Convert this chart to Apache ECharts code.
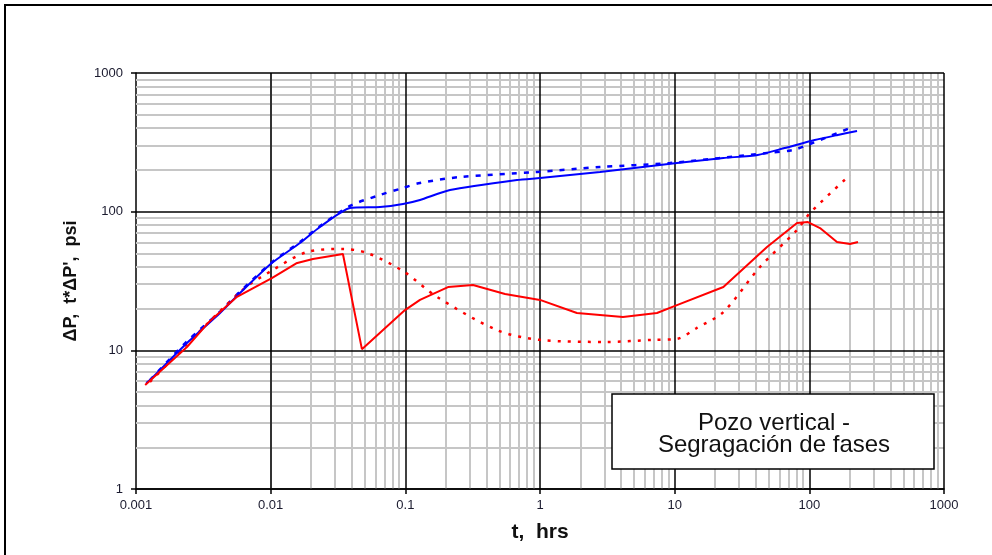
<!DOCTYPE html>
<html>
<head>
<meta charset="utf-8">
<script src="https://cdn.jsdelivr.net/npm/echarts@6/dist/echarts.min.js"></script>
<style>html,body{margin:0;padding:0;background:#fff;}#c{width:992px;height:555px;}</style>
</head>
<body>
<div id="c"></div>
<script>
// ---- data ----
const xTickLabels = ['0.001', '0.01', '0.1', '1', '10', '100', '1000'];
const yTickLabels = ['1', '10', '100', '1000'];

// Pressure change, measured (blue solid)
const dpTime  = [0.00119, 0.00127, 0.00239, 0.00421, 0.00592, 0.0102, 0.0165, 0.0232, 0.0388, 0.0649, 0.0961, 0.1285, 0.2147, 0.6745, 1.0, 2.79, 10.4, 23.0, 41.4, 65.6, 109.6, 162.4, 226];
const dpValue = [5.81, 6.11, 11.3, 18.6, 25.9, 42.6, 59.4, 77.5, 106.3, 108, 113.6, 121.4, 143.3, 169.2, 174.9, 193.2, 224.4, 243.8, 256.3, 287.8, 328.7, 357.2, 381.6];

// Pressure change, model (blue dotted)
const dpModelTime  = [0.00127, 0.00239, 0.00421, 0.00592, 0.0102, 0.0165, 0.0232, 0.0388, 0.0649, 0.0961, 0.1285, 0.2547, 0.95, 2.79, 9.23, 48.5, 75.6, 101.1, 200.4];
const dpModelValue = [6.1, 11.6, 19.0, 26.5, 43.0, 60.5, 78.5, 109.9, 131.9, 148.2, 160.9, 177.8, 193.2, 209.9, 224.4, 264.9, 278.4, 307.6, 401.2];

// Derivative, measured (red solid)
const derivTime  = [0.00117, 0.00239, 0.0035, 0.00562, 0.0102, 0.0155, 0.0206, 0.0344, 0.0476, 0.0994, 0.1285, 0.2074, 0.318, 0.55, 1.0, 1.88, 4.13, 7.39, 10.4, 23.0, 48.5, 81.0, 97.7, 120, 160.4, 200.4, 229.7];
const derivValue = [5.62, 10.57, 16.1, 24.3, 33.2, 42.4, 45.6, 49.5, 10.2, 19.5, 23.1, 28.6, 29.6, 25.5, 23.1, 18.6, 17.4, 18.6, 21.2, 28.6, 55.6, 82.9, 84.2, 76.2, 60.4, 58.5, 60.4];

// Derivative, model (red dotted)
const derivModelTime  = [0.00127, 0.00592, 0.0104, 0.0186, 0.0344, 0.0519, 0.0961, 0.1718, 0.4794, 1.0, 3.14, 6.90, 10.4, 14.6, 23.0, 43.0, 81.0, 101.1, 200.4];
const derivModelValue = [5.91, 26.3, 38.0, 51.2, 53.8, 50.4, 37.3, 24.3, 14.0, 11.9, 11.5, 11.9, 12.1, 14.5, 18.9, 39.9, 73.8, 97.8, 183.8];

const boxLines = ['Pozo vertical -', 'Segragación de fases'];

// ---- build ----
function pairs(xs, ys) { return xs.map((x, i) => [x, ys[i]]); }

const minorX = [], majorX = [];
for (let e = -3; e <= 3; e++) {
  majorX.push({ xAxis: Math.pow(10, e) });
  if (e < 3) for (let d = 2; d <= 9; d++) minorX.push({ xAxis: d * Math.pow(10, e) });
}
const minorY = [], majorY = [];
for (let e = 0; e <= 3; e++) {
  majorY.push({ yAxis: Math.pow(10, e) });
  if (e < 3) for (let d = 2; d <= 9; d++) minorY.push({ yAxis: d * Math.pow(10, e) });
}

const FONT = '"Liberation Sans", Arial, sans-serif';
const chart = echarts.init(document.getElementById('c'));
chart.setOption({
  animation: false,
  backgroundColor: '#fff',
  grid: { left: 136, right: 48, top: 73, bottom: 66, containLabel: false },
  xAxis: {
    type: 'log', logBase: 10, min: 0.001, max: 1000, interval: 1, splitNumber: 6,
    name: 't,  hrs', nameLocation: 'middle', nameGap: 33,
    nameTextStyle: { fontFamily: FONT, fontSize: 21, fontWeight: 'bold', color: '#111' },
    axisLine: { lineStyle: { color: '#000', width: 1.5 } },
    axisTick: { show: true, length: 5, lineStyle: { color: '#000', width: 1.5 } },
    axisLabel: {
      fontFamily: FONT, fontSize: 13, color: '#1a1a2e', margin: 10,
      formatter: v => xTickLabels[Math.round(Math.log10(v)) + 3]
    },
    splitLine: { show: false }, minorTick: { show: false }, minorSplitLine: { show: false }
  },
  yAxis: {
    type: 'log', logBase: 10, min: 1, max: 1000, interval: 1, splitNumber: 3,
    name: 'ΔP,  t*ΔP\',  psi', nameLocation: 'middle', nameGap: 56, nameRotate: 90,
    nameTextStyle: { fontFamily: FONT, fontSize: 18, fontWeight: 'bold', color: '#111' },
    axisLine: { lineStyle: { color: '#000', width: 1.5 } },
    axisTick: { show: true, length: 5, lineStyle: { color: '#000', width: 1.5 } },
    axisLabel: {
      fontFamily: FONT, fontSize: 13, color: '#1a1a2e', margin: 13,
      formatter: v => yTickLabels[Math.round(Math.log10(v))]
    },
    splitLine: { show: false }, minorTick: { show: false }, minorSplitLine: { show: false }
  },
  series: [
    {
      name: 'minor', type: 'line', data: [], z: 1, silent: true,
      markLine: { z: 1, silent: true, symbol: 'none', animation: false, label: { show: false },
        lineStyle: { color: '#c6c6c6', width: 2, type: 'solid' },
        emphasis: { disabled: true },
        data: minorX.concat(minorY) }
    },
    {
      name: 'major', type: 'line', data: [], z: 2, silent: true,
      markLine: { z: 2, silent: true, symbol: 'none', animation: false, label: { show: false },
        lineStyle: { color: '#000', width: 1.5, type: 'solid' },
        emphasis: { disabled: true },
        data: majorX.concat(majorY) }
    },
    {
      name: 'ΔP model', type: 'line', z: 3, showSymbol: false, smooth: 0.3,
      data: pairs(dpModelTime, dpModelValue),
      lineStyle: { color: '#0000ff', width: 2.5, type: [5, 7] }
    },
    {
      name: 'ΔP', type: 'line', z: 4, showSymbol: false, smooth: 0.2,
      data: pairs(dpTime, dpValue),
      lineStyle: { color: '#0000ff', width: 2 }
    },
    {
      name: "t*ΔP' model", type: 'line', z: 3, showSymbol: false, smooth: 0.3,
      data: pairs(derivModelTime, derivModelValue),
      lineStyle: { color: '#ff0000', width: 2.5, type: [3, 7] }
    },
    {
      name: "t*ΔP'", type: 'line', z: 4, showSymbol: false, smooth: false,
      data: pairs(derivTime, derivValue),
      lineStyle: { color: '#ff0000', width: 2 }
    }
  ],
  graphic: [
    { type: 'polyline', z: 100, shape: { points: [[5, 560], [5, 5], [992, 5]] },
      style: { fill: 'none', stroke: '#000', lineWidth: 2 } },
    { type: 'rect', z: 100, shape: { x: 612, y: 394, width: 322, height: 75 },
      style: { fill: '#fff', stroke: '#000', lineWidth: 1.5 } },
    { type: 'text', z: 101, x: 774, y: 423,
      style: { text: boxLines[0], font: '24px ' + FONT, fill: '#111', align: 'center', verticalAlign: 'middle' } },
    { type: 'text', z: 101, x: 774, y: 445,
      style: { text: boxLines[1], font: '24px ' + FONT, fill: '#111', align: 'center', verticalAlign: 'middle' } }
  ]
});
</script>
</body>
</html>
